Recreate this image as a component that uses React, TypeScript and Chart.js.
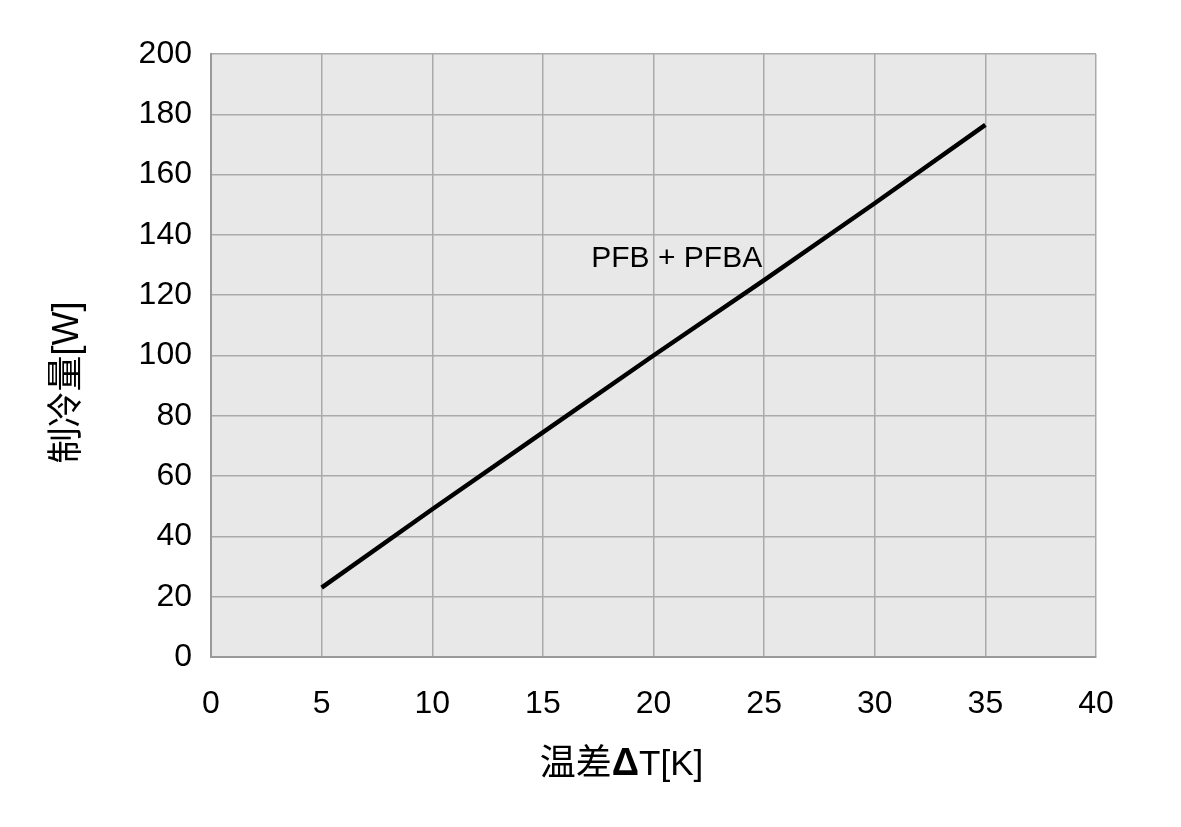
import React, { useEffect, useRef } from "react";
import { Chart, registerables } from "chart.js";

Chart.register(...registerables);

const xValues = [5, 10, 15, 20, 25, 30, 35];
const coolingPower = [23, 49, 74.5, 100, 125, 150.5, 176.5];
const seriesLabel = "PFB + PFBA";
const labelAt = { x: 21.05, y: 132.0 };
const xTitleParts = ["温差", "Δ", "T[K]"];
const yTitle = "制冷量[W]";

const LATIN = '"Liberation Sans", Arial, sans-serif';
const TITLE_FONT = '"Liberation Sans Narrow", "Liberation Sans", "Noto Sans CJK SC", sans-serif';

const decorPlugin = {
  id: "decor",
  beforeDraw(chart: any) {
    const { ctx, chartArea } = chart;
    ctx.save();
    ctx.fillStyle = "#e8e8e8";
    ctx.fillRect(chartArea.left, chartArea.top, chartArea.right - chartArea.left, chartArea.bottom - chartArea.top);
    ctx.restore();
  },
  afterDraw(chart: any) {
    const { ctx, chartArea, scales } = chart;
    ctx.save();
    ctx.fillStyle = "#000";
    // series label
    ctx.font = `30px ${LATIN}`;
    ctx.textAlign = "center";
    ctx.textBaseline = "middle";
    ctx.fillText(seriesLabel, scales.x.getPixelForValue(labelAt.x), scales.y.getPixelForValue(labelAt.y));

    // x title in parts
    const fonts = [`36px ${TITLE_FONT}`, `bold 38px ${LATIN}`, `35px ${TITLE_FONT}`];
    let total = 0;
    const widths = xTitleParts.map((p, i) => {
      ctx.font = fonts[i];
      const w = ctx.measureText(p).width;
      total += w;
      return w;
    });
    const cx = (chartArea.left + chartArea.right) / 2 - 32;
    let x = cx - total / 2;
    ctx.textAlign = "left";
    ctx.textBaseline = "middle";
    xTitleParts.forEach((p, i) => {
      ctx.font = fonts[i];
      ctx.fillText(p, x, 765);
      x += widths[i];
    });

    // y title
    ctx.translate(68, (chartArea.top + chartArea.bottom) / 2 + 27);
    ctx.rotate(-Math.PI / 2);
    ctx.font = `36px ${TITLE_FONT}`;
    ctx.textAlign = "center";
    ctx.textBaseline = "middle";
    ctx.fillText(yTitle, 0, 0);
    ctx.restore();
  },
};

export default function App() {
  const ref = useRef<HTMLCanvasElement>(null);
  useEffect(() => {
    if (!ref.current) return;
    const chart = new Chart(ref.current, {
      type: "line",
      data: {
        datasets: [
          {
            label: seriesLabel,
            data: xValues.map((x, i) => ({ x, y: coolingPower[i] })),
            borderColor: "#000",
            borderWidth: 4.5,
            pointRadius: 0,
            tension: 0,
            fill: false,
          },
        ],
      },
      options: {
        animation: false,
        responsive: false,
        layout: { padding: { left: 0, top: 54, right: 85, bottom: 0 } },
        plugins: { legend: { display: false }, tooltip: { enabled: false } },
        scales: {
          x: {
            type: "linear",
            min: 0,
            max: 40,
            ticks: { stepSize: 5, padding: 28, color: "#000", font: { size: 32, family: LATIN } },
            grid: { color: "#aaaaaa", lineWidth: 1.5, drawTicks: false },
            border: { display: true, color: "#999999", width: 2 },
            afterFit: (s: any) => {
              s.height = 170;
            },
          },
          y: {
            min: 0,
            max: 200,
            ticks: { stepSize: 20, padding: 19, color: "#000", font: { size: 32, family: LATIN } },
            grid: { color: "#aaaaaa", lineWidth: 1.5, drawTicks: false },
            border: { display: true, color: "#999999", width: 2 },
            afterFit: (s: any) => {
              s.width = 211;
            },
          },
        },
      },
      plugins: [decorPlugin],
    } as any);
    return () => chart.destroy();
  }, []);
  return (
    <div style={{ position: "fixed", left: 0, top: 0, width: 1181, height: 827, background: "#fff" }}>
      <canvas ref={ref} width={1181} height={827} style={{ width: 1181, height: 827 }} />
    </div>
  );
}
